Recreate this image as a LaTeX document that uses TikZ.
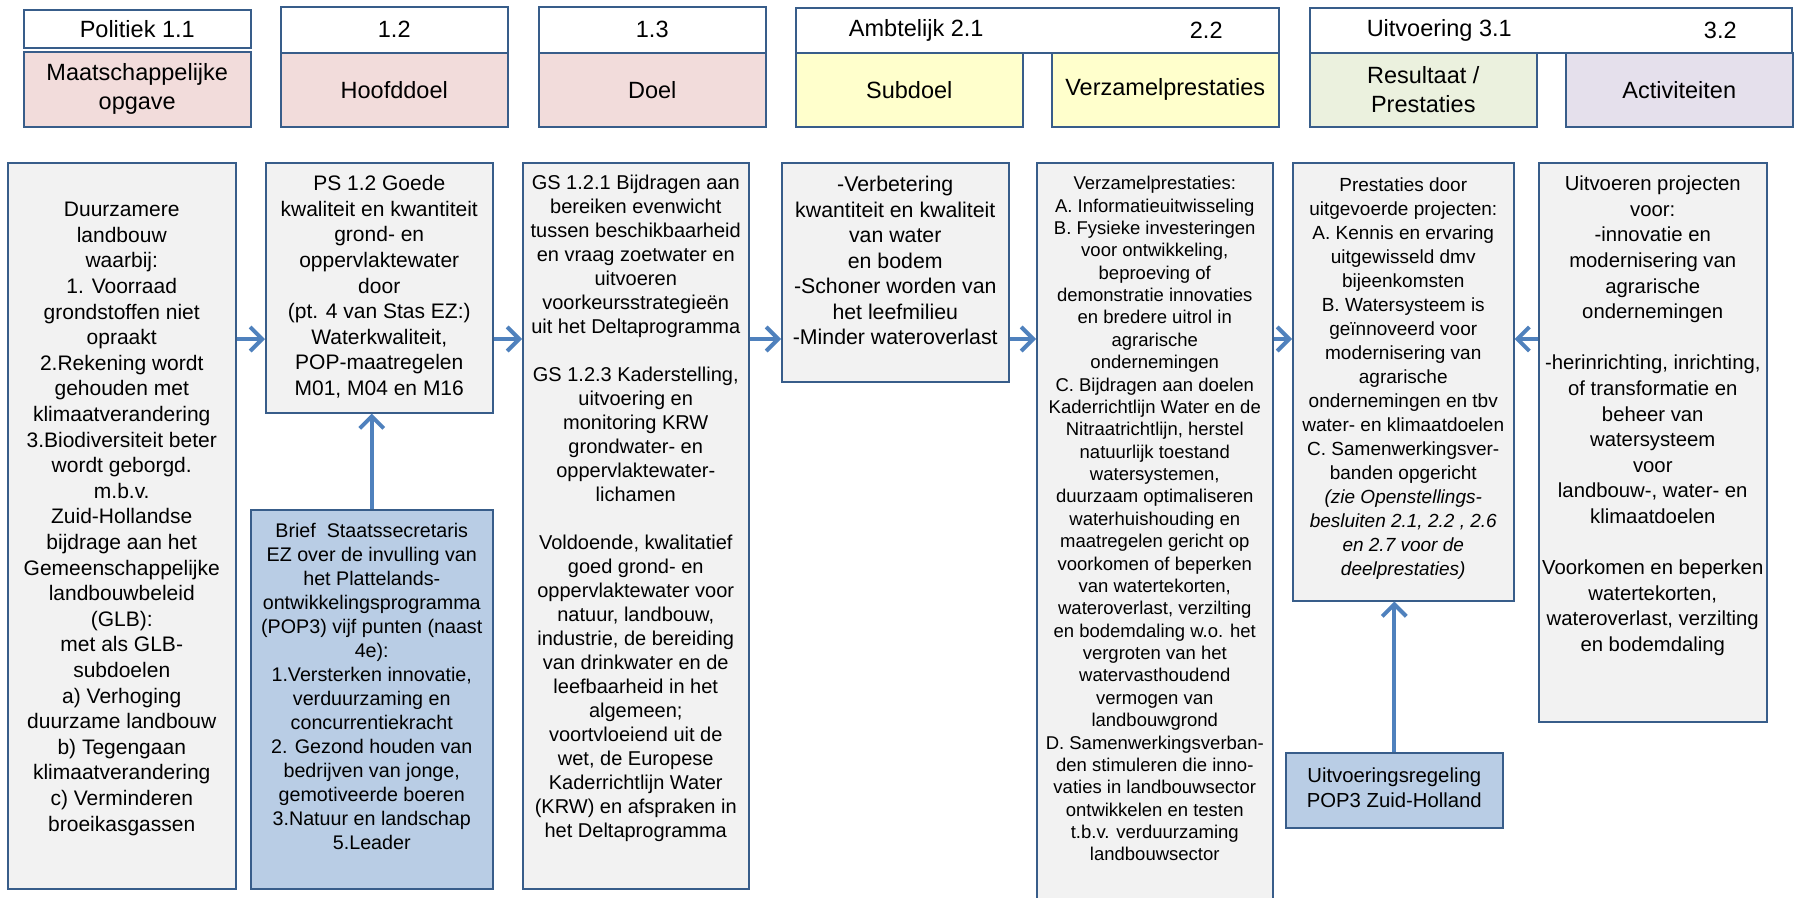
\documentclass[tikz,border=0pt]{standalone}
\usepackage{fontspec}
\setmainfont{Liberation Sans}
\usepackage{tikz}
\usetikzlibrary{positioning,calc,arrows.meta}

\definecolor{rand}{HTML}{385D8A}
\definecolor{grijs}{HTML}{F2F2F2}
\definecolor{roze}{HTML}{F2DCDB}
\definecolor{geel}{HTML}{FFFFCC}
\definecolor{groen}{HTML}{EBF1DE}
\definecolor{lila}{HTML}{E5E0EC}
\definecolor{lichtblauw}{HTML}{B9CDE5}
\definecolor{pijlblauw}{HTML}{4F81BD}

% box text: height, width, first baseline, lines
\newcommand{\vaktekst}[4]{\parbox[c][#1][t]{#2}{\centering\rule{0pt}{#3}#4\par}}

\tikzset{
  kop/.style={draw=rand, line width=1.5pt, fill=white, anchor=north west, inner sep=0pt,
    minimum width=227pt, minimum height=46pt, align=center, font=\fontsize{23.5}{29}\selectfont},
  kopvak/.style={kop, minimum height=74pt},
  kopletter/.style={inner sep=0pt, font=\fontsize{23.5}{29}\selectfont},
  blok/.style={draw=rand, line width=1.5pt, fill=grijs, anchor=north west, inner sep=0pt},
  pijl/.style={draw=pijlblauw, line width=4pt, -{Straight Barb[length=12pt,width=24pt]}}
}

\begin{document}
\begin{tikzpicture}[x=1pt,y=-1pt]
    \useasboundingbox (0,0) rectangle (1806,897);

    % header row
    \node[kop, minimum height=38pt] (k11) at (23,9) {Politiek 1.1};
    \node[kopvak, fill=roze, minimum height=75pt] (opgave) at (23,51) {Maatschappelijke\\opgave};
    \node[kop] (k12) at (280,6) {1.2};
    \node[kopvak, fill=roze] (hoofddoel) at (280,52) {Hoofddoel};
    \node[kop] (k13) at (538,6) {1.3};
    \node[kopvak, fill=roze] (doel) at (538,52) {Doel};
    \node[kop, minimum width=483pt, minimum height=45pt] (k2) at (795,7) {};
    \node[kopvak, fill=geel] (subdoel) at (795,52) {Subdoel};
    \node[kopvak, fill=geel] (verzkop) at (1051,52) {Verzamelprestaties};
    \node[kop, minimum width=482pt, minimum height=45pt] (k3) at (1309,7) {};
    \node[kopvak, fill=groen] (resultaat) at (1309,52) {Resultaat /\\Prestaties};
    \node[kopvak, fill=lila] (activiteit) at (1565,52) {Activiteiten};

    \node[kopletter, xshift=7pt] at (subdoel.center |- k2.center) {Ambtelijk 2.1};
    \node[kopletter, xshift=41pt] at (verzkop.center |- k2.center) {2.2};
    \node[kopletter, xshift=16pt] at (resultaat.center |- k3.center) {Uitvoering 3.1};
    \node[kopletter, xshift=41pt] at (activiteit.center |- k3.center) {3.2};

    % main boxes
    \node[blok, font=\fontsize{21}{25.6}\selectfont] (duurz) at (7,162) {\vaktekst{726pt}{228pt}{54pt}{%
      Duurzamere\\landbouw\\waarbij:\\1. Voorraad\\grondstoffen niet\\opraakt\\2.Rekening wordt\\gehouden met\\klimaatverandering\\3.Biodiversiteit beter\\wordt geborgd.\\m.b.v.\\Zuid-Hollandse\\bijdrage aan het\\Gemeenschappelijke\\landbouwbeleid\\(GLB):\\met als GLB-\\subdoelen\\a) Verhoging\\duurzame landbouw\\b) Tegengaan\\klimaatverandering\\c) Verminderen\\broeikasgassen}};

    \node[blok, font=\fontsize{21}{25.6}\selectfont] (ps) at (265,162) {\vaktekst{250pt}{227pt}{28pt}{%
      PS 1.2 Goede\\kwaliteit en kwantiteit\\grond- en\\oppervlaktewater\\door\\(pt. 4 van Stas EZ:)\\Waterkwaliteit,\\POP-maatregelen\\M01, M04 en M16}};

    \node[blok, fill=lichtblauw, font=\fontsize{19.7}{24}\selectfont] (brief) at (250,509) {\vaktekst{379pt}{242pt}{28pt}{%
      Brief\ \ Staatssecretaris\\EZ over de invulling van\\het Plattelands-\\ontwikkelingsprogramma\\(POP3) vijf punten (naast\\4e):\\1.Versterken innovatie,\\verduurzaming en\\concurrentiekracht\\2. Gezond houden van\\bedrijven van jonge,\\gemotiveerde boeren\\3.Natuur en landschap\\5.Leader}};

    \node[blok, font=\fontsize{20}{24}\selectfont] (gs) at (522,162) {\vaktekst{726pt}{226pt}{27pt}{%
      GS 1.2.1 Bijdragen aan\\bereiken evenwicht\\tussen beschikbaarheid\\en vraag zoetwater en\\uitvoeren\\voorkeursstrategieën\\uit het Deltaprogramma\\[24pt]%
      GS 1.2.3 Kaderstelling,\\uitvoering en\\monitoring KRW\\grondwater- en\\oppervlaktewater-\\lichamen\\[24pt]%
      Voldoende, kwalitatief\\goed grond- en\\oppervlaktewater voor\\natuur, landbouw,\\industrie, de bereiding\\van drinkwater en de\\leefbaarheid in het\\algemeen;\\voortvloeiend uit de\\wet, de Europese\\Kaderrichtlijn Water\\(KRW) en afspraken in\\het Deltaprogramma}};

    \node[blok, font=\fontsize{21.3}{25.5}\selectfont] (verbetering) at (781,162) {\vaktekst{219pt}{227pt}{29pt}{%
      -Verbetering\\kwantiteit en kwaliteit\\van water\\en bodem\\-Schoner worden van\\het leefmilieu\\-Minder wateroverlast}};

    \node[blok, font=\fontsize{18.5}{22.37}\selectfont] (verzamel) at (1036,162) {\vaktekst{737pt}{236pt}{27pt}{%
      Verzamelprestaties:\\A. Informatieuitwisseling\\B. Fysieke investeringen\\voor ontwikkeling,\\beproeving of\\demonstratie innovaties\\en bredere uitrol in\\agrarische\\ondernemingen\\C. Bijdragen aan doelen\\Kaderrichtlijn Water en de\\Nitraatrichtlijn, herstel\\natuurlijk toestand\\watersystemen,\\duurzaam optimaliseren\\waterhuishouding en\\maatregelen gericht op\\voorkomen of beperken\\van watertekorten,\\wateroverlast, verzilting\\en bodemdaling w.o. het\\vergroten van het\\watervasthoudend\\vermogen van\\landbouwgrond\\D. Samenwerkingsverban-\\den stimuleren die inno-\\vaties in landbouwsector\\ontwikkelen en testen\\t.b.v. verduurzaming\\landbouwsector}};

    \node[blok, font=\fontsize{19}{24}\selectfont] (prestaties) at (1292,162) {\vaktekst{438pt}{221pt}{29pt}{%
      Prestaties door\\uitgevoerde projecten:\\A. Kennis en ervaring\\uitgewisseld dmv\\bijeenkomsten\\B. Watersysteem is\\geïnnoveerd voor\\modernisering van\\agrarische\\ondernemingen en tbv\\water- en klimaatdoelen\\C. Samenwerkingsver-\\banden opgericht\\\textit{(zie Openstellings-}\\\textit{besluiten 2.1, 2.2 , 2.6}\\\textit{en 2.7 voor de}\\\textit{deelprestaties)}}};

    \node[blok, font=\fontsize{20.3}{25.6}\selectfont] (uitvoeren) at (1538,162) {\vaktekst{559pt}{228pt}{28pt}{%
      Uitvoeren projecten\\voor:\\-innovatie en\\modernisering van\\agrarische\\ondernemingen\\[25.6pt]%
      -herinrichting, inrichting,\\of transformatie en\\beheer van\\watersysteem\\voor\\landbouw-, water- en\\klimaatdoelen\\[25.6pt]%
      Voorkomen en beperken\\watertekorten,\\wateroverlast, verzilting\\en bodemdaling}};

    \node[blok, fill=lichtblauw, font=\fontsize{20.3}{25}\selectfont] (regeling) at (1285,752) {\vaktekst{75pt}{217pt}{30pt}{%
      Uitvoeringsregeling\\POP3 Zuid-Holland}};

    % arrows
    \coordinate (pijlrij) at (0,339);
    \draw[pijl] (duurz.east |- pijlrij) -- (ps.west |- pijlrij);
    \draw[pijl] (ps.east |- pijlrij) -- (gs.west |- pijlrij);
    \draw[pijl] (gs.east |- pijlrij) -- (verbetering.west |- pijlrij);
    \draw[pijl] (verbetering.east |- pijlrij) -- (verzamel.west |- pijlrij);
    \draw[pijl] (verzamel.east |- pijlrij) -- (prestaties.west |- pijlrij);
    \draw[pijl] (uitvoeren.west |- pijlrij) -- (prestaties.east |- pijlrij);
    \draw[pijl] (brief.north) -- (brief.north |- ps.south);
    \draw[pijl] (regeling.north) -- (regeling.north |- prestaties.south);
\end{tikzpicture}
\end{document}
